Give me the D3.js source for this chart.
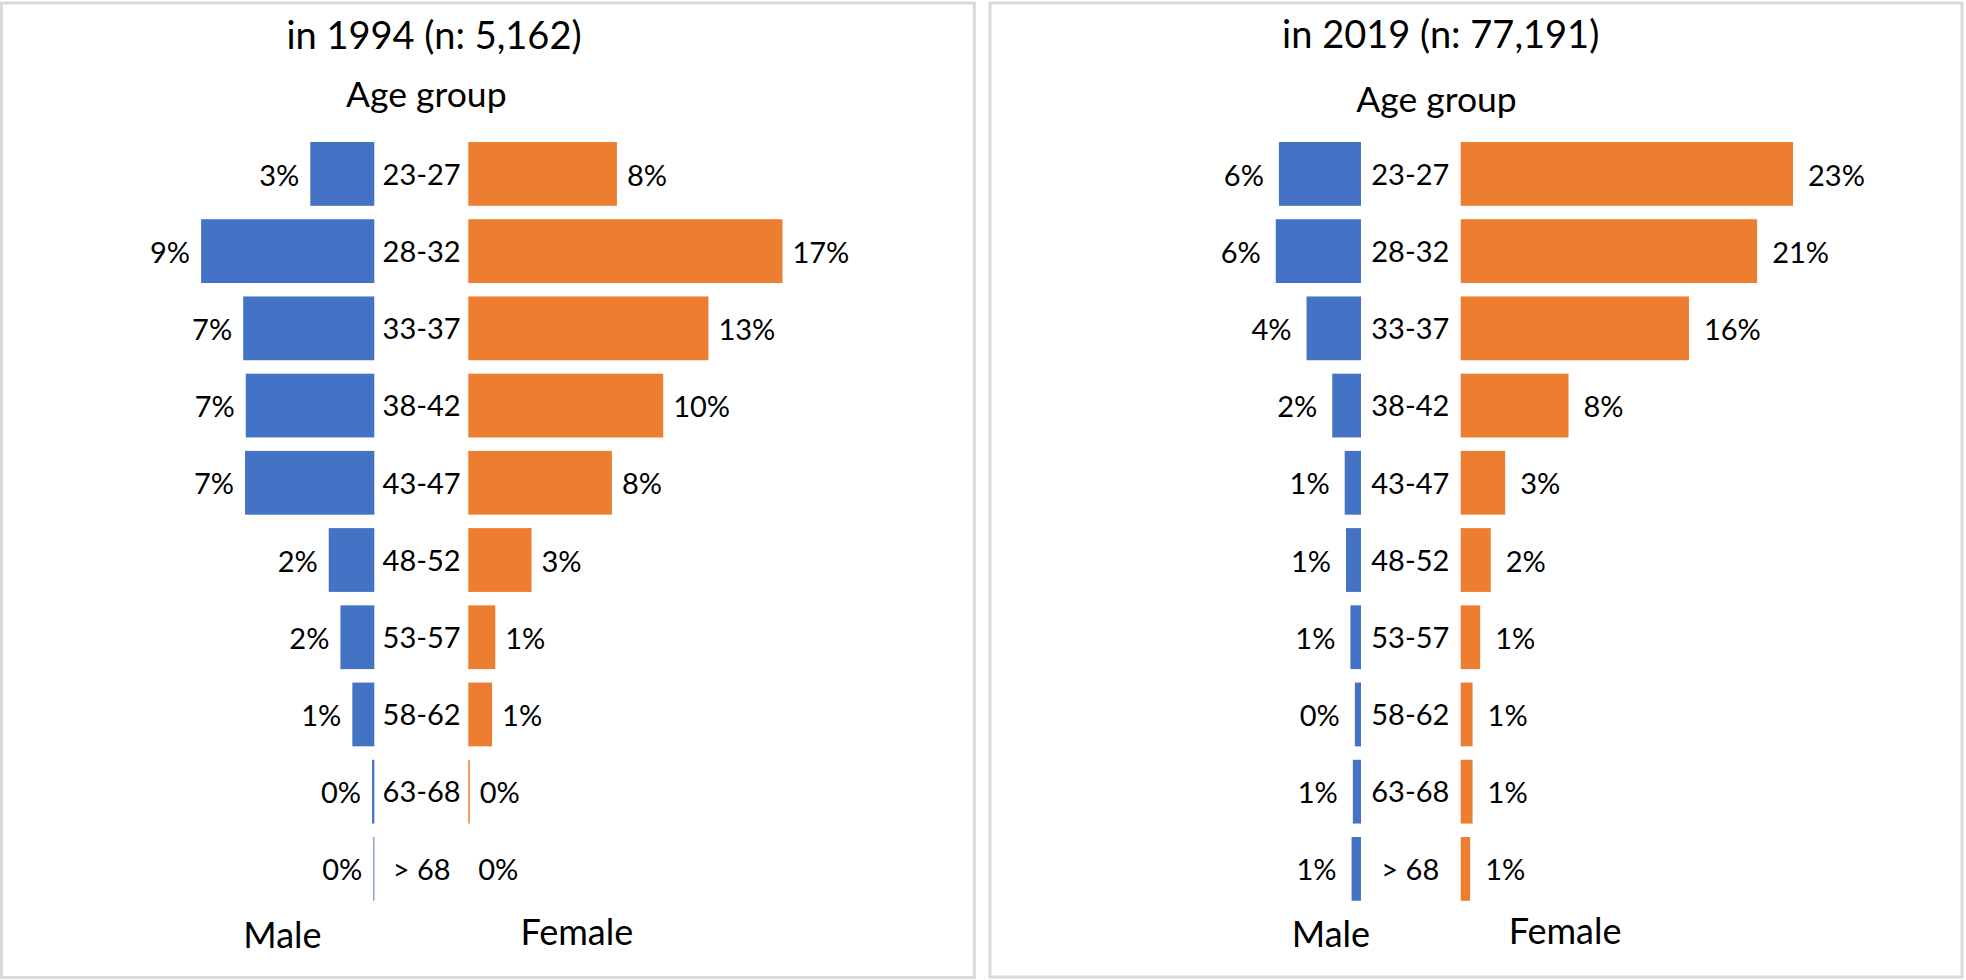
<!DOCTYPE html>
<html>
<head>
<meta charset="utf-8">
<script src="https://cdn.jsdelivr.net/npm/d3@7"></script>
<style>
  html, body { margin: 0; padding: 0; background: #fff; }
  svg { display: block; }
  text { font-family: Lato, "Noto Sans", sans-serif; fill: #000; }
</style>
</head>
<body>
<svg id="chart" width="1966" height="980"></svg>
<script>
// ---- data ----
const ageGroups = ["23-27", "28-32", "33-37", "38-42", "43-47", "48-52", "53-57", "58-62", "63-68", "> 68"];
const male1994   = [3.44, 9.31, 7.05, 6.91, 6.95, 2.45, 1.82, 1.18, 0.12, 0.05];
const female1994 = [7.99, 16.89, 12.91, 10.48, 7.72, 3.40, 1.45, 1.28, 0.08, 0];
const male2019   = [5.74, 5.96, 3.81, 2.01, 1.14, 1.05, 0.74, 0.43, 0.57, 0.66];
const female2019 = [23.24, 20.73, 15.96, 7.54, 3.11, 2.10, 1.36, 0.83, 0.83, 0.66];
const panelTitles = ["in 1994 (n: 5,162)", "in 2019 (n: 77,191)"];
const axisTitle = "Age group";
const sexLabels = ["Male", "Female"];

// ---- layout ----
const colors = { male: "#4472C4", female: "#ED7D31" };
const panels = [
  { title: panelTitles[0], male: male1994, female: female1994,
    frame: [1.5, 3, 974.3, 977.5], maleEdge: 374.3, femaleEdge: 468.3, catX: 421.6,
    titleX: 434, titleY: 49, ageX: 426.3, ageY: 107.3,
    maleX: 282.4, maleY: 948, femaleX: 576.8, femaleY: 945,
    xMax: 20, xWidth: 372, gapM: 11, gapF: 10 },
  { title: panelTitles[1], male: male2019, female: female2019,
    frame: [990, 3, 1962, 977], maleEdge: 1361, femaleEdge: 1460.7, catX: 1410.3,
    titleX: 1440.7, titleY: 48.3, ageX: 1436.5, ageY: 111.7,
    maleX: 1330.9, maleY: 947, femaleX: 1565.1, femaleY: 944,
    xMax: 25, xWidth: 357.5, gapM: 15, gapF: 15 }
];

const svg = d3.select("#chart");

const y = d3.scaleBand()
  .domain(ageGroups)
  .range([135.3, 907.5])
  .paddingInner(0.174)
  .paddingOuter(0.087);

const fmt = v => Math.round(v) + "%";

panels.forEach(p => {
  const g = svg.append("g");
  const x = d3.scaleLinear().domain([0, p.xMax]).range([0, p.xWidth]);

  g.append("rect")
    .attr("x", p.frame[0]).attr("y", p.frame[1])
    .attr("width", p.frame[2] - p.frame[0]).attr("height", p.frame[3] - p.frame[1])
    .attr("fill", "none").attr("stroke", "#D9D9D9").attr("stroke-width", 3);

  g.append("text").attr("x", p.titleX).attr("y", p.titleY)
    .attr("text-anchor", "middle").style("font-size", "38px").text(p.title);
  g.append("text").attr("x", p.ageX).attr("y", p.ageY)
    .attr("text-anchor", "middle").style("font-size", "35.5px").text(axisTitle);

  const rows = ageGroups.map((a, i) => ({ age: a, m: p.male[i], f: p.female[i] }));

  // male bars
  g.selectAll(".mbar").data(rows).join("rect")
    .attr("x", d => p.maleEdge - x(d.m))
    .attr("y", d => y(d.age))
    .attr("width", d => x(d.m))
    .attr("height", y.bandwidth())
    .attr("fill", colors.male);

  // female bars
  g.selectAll(".fbar").data(rows).join("rect")
    .attr("x", p.femaleEdge)
    .attr("y", d => y(d.age))
    .attr("width", d => x(d.f))
    .attr("height", y.bandwidth())
    .attr("fill", colors.female);

  // category labels
  g.selectAll(".cat").data(rows).join("text")
    .attr("x", p.catX)
    .attr("y", d => y(d.age) + y.bandwidth() / 2)
    .attr("dy", "0.37em")
    .attr("text-anchor", "middle")
    .style("font-size", "29px")
    .text(d => d.age);

  // male value labels
  g.selectAll(".mlab").data(rows).join("text")
    .attr("x", d => p.maleEdge - x(d.m) - p.gapM)
    .attr("y", d => y(d.age) + y.bandwidth() / 2)
    .attr("dy", "0.4em")
    .attr("text-anchor", "end")
    .style("font-size", "29px")
    .text(d => fmt(d.m));

  // female value labels
  g.selectAll(".flab").data(rows).join("text")
    .attr("x", d => p.femaleEdge + x(d.f) + p.gapF)
    .attr("y", d => y(d.age) + y.bandwidth() / 2)
    .attr("dy", "0.4em")
    .attr("text-anchor", "start")
    .style("font-size", "29px")
    .text(d => fmt(d.f));

  g.append("text").attr("x", p.maleX).attr("y", p.maleY)
    .attr("text-anchor", "middle").style("font-size", "36px").text(sexLabels[0]);
  g.append("text").attr("x", p.femaleX).attr("y", p.femaleY)
    .attr("text-anchor", "middle").style("font-size", "36px").text(sexLabels[1]);
});
</script>
</body>
</html>
